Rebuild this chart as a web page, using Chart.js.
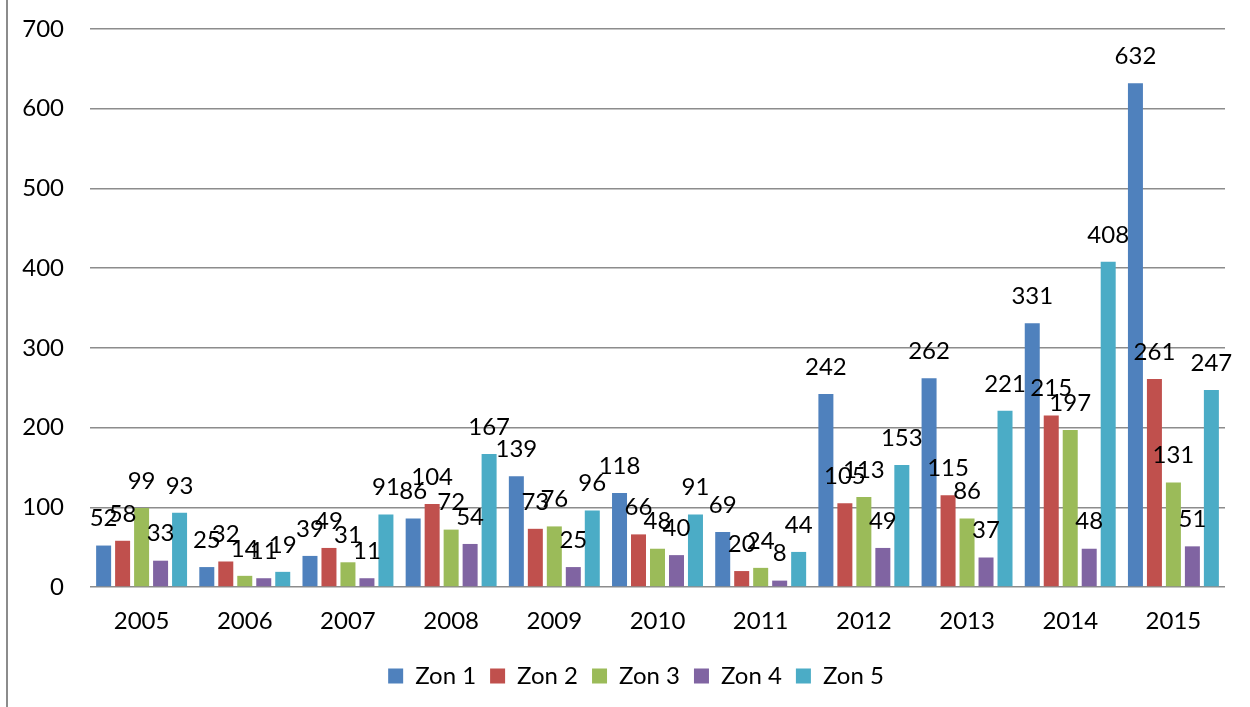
<!DOCTYPE html>
<html>
<head>
<meta charset="utf-8">
<script src="https://cdn.jsdelivr.net/npm/chart.js@4/dist/chart.umd.min.js"></script>
<style>
  html, body { margin: 0; padding: 0; background: #fff; }
  #wrap { position: relative; width: 1250px; height: 707px; }
  #edge { position: absolute; left: 6px; top: 0; width: 2px; height: 707px; background: #8c8c8c; }
  canvas { position: absolute; left: 0; top: 0; }
</style>
</head>
<body>
<div id="wrap">
  <canvas id="c" width="1250" height="707"></canvas>
  <div id="edge"></div>
</div>
<script>
const years = ['2005','2006','2007','2008','2009','2010','2011','2012','2013','2014','2015'];
const seriesNames = ['Zon 1','Zon 2','Zon 3','Zon 4','Zon 5'];
const zon1 = [52, 25, 39, 86, 139, 118, 69, 242, 262, 331, 632];
const zon2 = [58, 32, 49, 104, 73, 66, 20, 105, 115, 215, 261];
const zon3 = [99, 14, 31, 72, 76, 48, 24, 113, 86, 197, 131];
const zon4 = [33, 11, 11, 54, 25, 40, 8, 49, 37, 48, 51];
const zon5 = [93, 19, 91, 167, 96, 91, 44, 153, 221, 408, 247];
const colors = ['#4F81BD', '#C0504D', '#9BBB59', '#8064A2', '#4BACC6'];
const yMax = 700;
const yStep = 100;

const FONT = 'Lato, "Open Sans", sans-serif';
const FS = 24;

const valueLabels = {
  id: 'valueLabels',
  afterDatasetsDraw(chart) {
    const ctx = chart.ctx;
    ctx.save();
    ctx.font = FS + 'px ' + FONT;
    ctx.fillStyle = '#000';
    ctx.textAlign = 'center';
    ctx.textBaseline = 'middle';
    chart.data.datasets.forEach((ds, i) => {
      const meta = chart.getDatasetMeta(i);
      meta.data.forEach((bar, j) => {
        ctx.fillText(String(ds.data[j]), bar.x, bar.y - 27);
      });
    });
    ctx.restore();
  }
};

// center the legend slightly right of the canvas middle, as in the original
const legendShift = {
  id: 'legendShift',
  afterLayout(chart) {
    const lg = chart.legend;
    if (!lg) return;
    const target = chart.width / 2 + 11;
    const current = (lg.left + lg.right) / 2;
    const d = target - current;
    lg.left += d;
    lg.right += d;
  }
};

const allSeries = [zon1, zon2, zon3, zon4, zon5];

new Chart(document.getElementById('c'), {
  type: 'bar',
  data: {
    labels: years,
    datasets: allSeries.map((d, i) => ({
      label: seriesNames[i],
      data: d,
      backgroundColor: colors[i],
      borderWidth: 0,
      categoryPercentage: 0.92,
      barPercentage: 0.79
    }))
  },
  options: {
    responsive: false,
    animation: false,
    layout: { padding: { top: 29, right: 25, left: 0, bottom: 9 } },
    plugins: {
      legend: {
        position: 'bottom',
        labels: {
          font: { family: FONT, size: FS },
          color: '#000',
          boxWidth: 15,
          boxHeight: 15,
          padding: 14
        }
      },
      tooltip: { enabled: false }
    },
    scales: {
      x: {
        grid: { display: false, drawTicks: false },
        border: { display: false },
        ticks: { font: { family: FONT, size: FS }, color: '#000', padding: 20 },
        afterFit(scale) { scale.height = 63; scale.paddingLeft = 0; scale.paddingRight = 0; }
      },
      y: {
        min: 0,
        max: yMax,
        grid: { color: '#8c8c8c', lineWidth: 1.5, drawTicks: false },
        border: { display: false },
        ticks: { stepSize: yStep, font: { family: FONT, size: FS }, color: '#000', padding: 26 },
        afterFit(scale) { scale.width = 90; scale.paddingTop = 0; scale.paddingBottom = 0; }
      }
    }
  },
  plugins: [valueLabels, legendShift]
});
</script>
</body>
</html>
